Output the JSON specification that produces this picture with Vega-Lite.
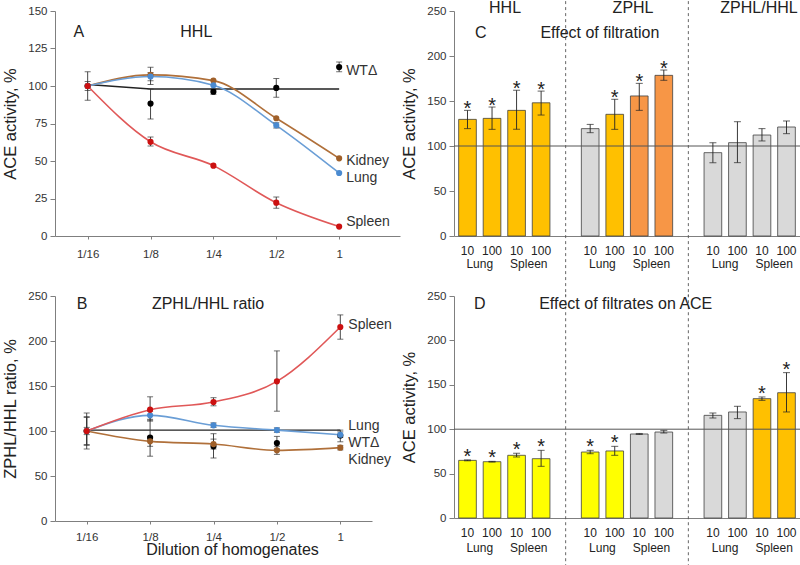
{
 "$schema": "https://vega.github.io/schema/vega-lite/v6.json",
 "padding": {"left": 2, "top": 0, "right": 0, "bottom": 0},
 "background": "white",
 "columns": 2,
 "bounds": "flush",
 "spacing": {"row": 60, "column": 54},
 "datasets": {
  "linesA": [
   {"s":"WTΔ","d":0.0625,"v":100,"lo":90.5,"hi":109.5},
   {"s":"WTΔ","d":0.125,"v":88.3,"lo":78,"hi":98},
   {"s":"WTΔ","d":0.25,"v":96.2,"lo":94.5,"hi":98},
   {"s":"WTΔ","d":0.5,"v":98.7,"lo":92.5,"hi":105},
   {"s":"WTΔ","d":1,"v":112.6,"lo":109.5,"hi":116},
   {"s":"Kidney","d":0.0625,"v":100},
   {"s":"Kidney","d":0.125,"v":107.4,"lo":101,"hi":112.5},
   {"s":"Kidney","d":0.25,"v":103.6},
   {"s":"Kidney","d":0.5,"v":78.5},
   {"s":"Kidney","d":1,"v":51.8},
   {"s":"Lung","d":0.0625,"v":100,"lo":97,"hi":103},
   {"s":"Lung","d":0.125,"v":106.3,"lo":103.5,"hi":109},
   {"s":"Lung","d":0.25,"v":100.5},
   {"s":"Lung","d":0.5,"v":73.8,"lo":72,"hi":75.5},
   {"s":"Lung","d":1,"v":42},
   {"s":"Spleen","d":0.0625,"v":100},
   {"s":"Spleen","d":0.125,"v":62.8,"lo":60,"hi":66},
   {"s":"Spleen","d":0.25,"v":46.9},
   {"s":"Spleen","d":0.5,"v":22.2,"lo":18.5,"hi":26},
   {"s":"Spleen","d":1,"v":6.3},
   {"s":"WTΔ fit","d":0.0625,"v":101},
   {"s":"WTΔ fit","d":0.125,"v":98},
   {"s":"WTΔ fit","d":0.25,"v":98},
   {"s":"WTΔ fit","d":0.5,"v":98},
   {"s":"WTΔ fit","d":1,"v":98}
  ],
  "linesB": [
   {"s":"WTΔ","d":0.0625,"v":100,"lo":80,"hi":120},
   {"s":"WTΔ","d":0.125,"v":92.6,"lo":72,"hi":112},
   {"s":"WTΔ","d":0.25,"v":83,"lo":70,"hi":97},
   {"s":"WTΔ","d":0.5,"v":86.7,"lo":80,"hi":94},
   {"s":"WTΔ","d":1,"v":95,"lo":88,"hi":101},
   {"s":"Kidney","d":0.0625,"v":100,"lo":85,"hi":115},
   {"s":"Kidney","d":0.125,"v":88.5,"lo":83,"hi":94},
   {"s":"Kidney","d":0.25,"v":85.5,"lo":80,"hi":91},
   {"s":"Kidney","d":0.5,"v":78.5,"lo":74,"hi":83},
   {"s":"Kidney","d":1,"v":81.5,"lo":79,"hi":84},
   {"s":"Lung","d":0.0625,"v":100,"lo":84,"hi":116},
   {"s":"Lung","d":0.125,"v":117.4,"lo":113,"hi":122},
   {"s":"Lung","d":0.25,"v":106.3,"lo":104,"hi":109},
   {"s":"Lung","d":0.5,"v":101,"lo":98.5,"hi":103.5},
   {"s":"Lung","d":1,"v":95.8,"lo":93,"hi":99},
   {"s":"Spleen","d":0.0625,"v":100,"lo":96,"hi":104},
   {"s":"Spleen","d":0.125,"v":123.7,"lo":111,"hi":138},
   {"s":"Spleen","d":0.25,"v":132.2,"lo":128,"hi":137},
   {"s":"Spleen","d":0.5,"v":155.2,"lo":122,"hi":189},
   {"s":"Spleen","d":1,"v":215.6,"lo":202,"hi":229},
   {"s":"WTΔ fit","d":0.0625,"v":101},
   {"s":"WTΔ fit","d":0.125,"v":101},
   {"s":"WTΔ fit","d":0.25,"v":101},
   {"s":"WTΔ fit","d":0.5,"v":101},
   {"s":"WTΔ fit","d":1,"v":101}
  ],
  "barsC": [
   {"slot":"HHL Lung 10","t":"Lung","n":"10","v":129.6,"lo":119.3,"hi":139.6,"cls":"up","sig":true},
   {"slot":"HHL Lung 100","t":"Lung","n":"100","v":130.7,"lo":118.5,"hi":143.3,"cls":"up","sig":true},
   {"slot":"HHL Spleen 10","t":"Spleen","n":"10","v":139.6,"lo":118.5,"hi":161.9,"cls":"up","sig":true},
   {"slot":"HHL Spleen 100","t":"Spleen","n":"100","v":148,"lo":134.4,"hi":161,"cls":"up","sig":true},
   {"slot":"ZPHL Lung 10","t":"Lung","n":"10","v":119.3,"lo":114.8,"hi":124,"cls":"ns","sig":false},
   {"slot":"ZPHL Lung 100","t":"Lung","n":"100","v":135.2,"lo":118.5,"hi":151.9,"cls":"up","sig":true},
   {"slot":"ZPHL Spleen 10","t":"Spleen","n":"10","v":155.6,"lo":139.6,"hi":169.6,"cls":"up2","sig":true},
   {"slot":"ZPHL Spleen 100","t":"Spleen","n":"100","v":178.5,"lo":173,"hi":184.4,"cls":"up2","sig":true},
   {"slot":"ZPHL/HHL Lung 10","t":"Lung","n":"10","v":92.6,"lo":81.5,"hi":103.7,"cls":"ns","sig":false},
   {"slot":"ZPHL/HHL Lung 100","t":"Lung","n":"100","v":103.7,"lo":81.5,"hi":127,"cls":"ns","sig":false},
   {"slot":"ZPHL/HHL Spleen 10","t":"Spleen","n":"10","v":112.2,"lo":105.6,"hi":119.3,"cls":"ns","sig":false},
   {"slot":"ZPHL/HHL Spleen 100","t":"Spleen","n":"100","v":121.1,"lo":113.7,"hi":127.8,"cls":"ns","sig":false}
  ],
  "barsD": [
   {"slot":"HHL Lung 10","t":"Lung","n":"10","v":64.9,"lo":64.4,"hi":65.4,"cls":"down","sig":true},
   {"slot":"HHL Lung 100","t":"Lung","n":"100","v":63.4,"lo":63,"hi":63.8,"cls":"down","sig":true},
   {"slot":"HHL Spleen 10","t":"Spleen","n":"10","v":70.6,"lo":68.7,"hi":72.8,"cls":"down","sig":true},
   {"slot":"HHL Spleen 100","t":"Spleen","n":"100","v":66.8,"lo":58.2,"hi":76.2,"cls":"down","sig":true},
   {"slot":"ZPHL Lung 10","t":"Lung","n":"10","v":74.3,"lo":72.4,"hi":76.2,"cls":"down","sig":true},
   {"slot":"ZPHL Lung 100","t":"Lung","n":"100","v":75.5,"lo":70.6,"hi":80.7,"cls":"down","sig":true},
   {"slot":"ZPHL Spleen 10","t":"Spleen","n":"10","v":94.6,"lo":94,"hi":95.2,"cls":"ns","sig":false},
   {"slot":"ZPHL Spleen 100","t":"Spleen","n":"100","v":96.8,"lo":95.7,"hi":98.7,"cls":"ns","sig":false},
   {"slot":"ZPHL/HHL Lung 10","t":"Lung","n":"10","v":115.6,"lo":112.6,"hi":118.2,"cls":"ns","sig":false},
   {"slot":"ZPHL/HHL Lung 100","t":"Lung","n":"100","v":119.4,"lo":111.9,"hi":125.8,"cls":"ns","sig":false},
   {"slot":"ZPHL/HHL Spleen 10","t":"Spleen","n":"10","v":134.4,"lo":132.5,"hi":136.3,"cls":"up","sig":true},
   {"slot":"ZPHL/HHL Spleen 100","t":"Spleen","n":"100","v":141.1,"lo":119.4,"hi":163.7,"cls":"up","sig":true}
  ]
 },
 "concat": [
  {
   "width": 345, "height": 225,
   "data": {"name": "linesA"},
   "encoding": {
    "x": {"field":"d","type":"quantitative","scale":{"type":"log","base":2,"domain":[0.0436,1.956]},"axis":{"values":[0.0625,0.125,0.25,0.5,1],"labelExpr":"datum.value >= 1 ? '1' : '1/' + round(1/datum.value)","title":null,"tickSize":3,"labelPadding":9,"labelFlush":false,"labelOverlap":false}},
    "y": {"field":"v","type":"quantitative","scale":{"domain":[0,150]},"axis":{"values":[0,25,50,75,100,125,150],"title":"ACE activity, %","tickSize":5,"labelPadding":3,"titlePadding":9}}
   },
   "layer": [
    {"transform":[{"filter":"datum.s == 'WTΔ fit'"}],"mark":{"type":"line","color":"#222","strokeWidth":1.3}},
    {"transform":[{"filter":"datum.s == 'Lung' || datum.s == 'Kidney' || datum.s == 'Spleen'"}],
     "mark":{"type":"line","interpolate":"monotone","strokeWidth":1.6},
     "encoding":{"color":{"field":"s","type":"nominal","scale":{"domain":["Lung","Kidney","Spleen"],"range":["#6A9ED6","#B0703A","#E05858"]},"legend":null}}},
    {"transform":[{"filter":"isValid(datum.lo)"}],"mark":{"type":"rule","color":"#333","strokeWidth":0.9},
     "encoding":{"y":{"field":"lo","type":"quantitative"},"y2":{"field":"hi"}}},
    {"transform":[{"filter":"isValid(datum.lo)"}],"mark":{"type":"tick","orient":"horizontal","size":6,"thickness":1,"color":"#333"},
     "encoding":{"y":{"field":"lo","type":"quantitative"}}},
    {"transform":[{"filter":"isValid(datum.hi)"}],"mark":{"type":"tick","orient":"horizontal","size":6,"thickness":1,"color":"#333"},
     "encoding":{"y":{"field":"hi","type":"quantitative"}}},
    {"transform":[{"filter":"datum.s != 'WTΔ fit'"}],"mark":{"type":"point","filled":true,"shape":"circle","size":38,"opacity":1},
     "encoding":{"color":{"field":"s","type":"nominal","scale":{"domain":["Lung","Kidney","Spleen","WTΔ"],"range":["#4A8AD0","#A0602A","#CC1010","#000000"]},"legend":null}}},
    {"transform":[{"filter":"datum.s == 'WTΔ' && datum.d == 1"}],
     "mark":{"type":"text","text":"WTΔ","align":"left","baseline":"middle","dx":7,"fontSize":14,"color":"#333"},
     "encoding":{"y":{"datum":110,"type":"quantitative"}}},
    {"transform":[{"filter":"datum.s == 'Kidney' && datum.d == 1"}],
     "mark":{"type":"text","text":"Kidney","align":"left","baseline":"middle","dx":7,"fontSize":14,"color":"#333"},
     "encoding":{"y":{"datum":50,"type":"quantitative"}}},
    {"transform":[{"filter":"datum.s == 'Lung' && datum.d == 1"}],
     "mark":{"type":"text","text":"Lung","align":"left","baseline":"middle","dx":7,"fontSize":14,"color":"#333"},
     "encoding":{"y":{"datum":38.4,"type":"quantitative"}}},
    {"transform":[{"filter":"datum.s == 'Spleen' && datum.d == 1"}],
     "mark":{"type":"text","text":"Spleen","align":"left","baseline":"middle","dx":7,"fontSize":14,"color":"#333"},
     "encoding":{"y":{"datum":9.6,"type":"quantitative"}}},
    {"transform":[{"filter":"datum.s == 'WTΔ fit' && datum.d == 1"}],
     "mark":{"type":"text","text":"A","align":"center","baseline":"middle","fontSize":16,"color":"#222"},
     "encoding":{"x":{"datum":0.0567,"type":"quantitative"},"y":{"datum":136,"type":"quantitative"}}},
    {"transform":[{"filter":"datum.s == 'WTΔ fit' && datum.d == 1"}],
     "mark":{"type":"text","text":"HHL","align":"center","baseline":"middle","fontSize":16,"color":"#222"},
     "encoding":{"x":{"datum":0.207,"type":"quantitative"},"y":{"datum":136,"type":"quantitative"}}}
   ],
   "resolve": {"scale": {"color": "independent"}}
  },
  {
   "width": 346, "height": 225,
   "data": {"name": "barsC"},
   "encoding": {
    "y": {"field":"v","type":"quantitative","scale":{"domain":[0,250]},"axis":{"values":[0,50,100,150,200,250],"title":"ACE activity, %","tickSize":5,"labelPadding":3,"titlePadding":9}}
   },
   "layer": [
    {"mark":{"type":"bar","stroke":"#404040","strokeWidth":0.8},
     "encoding":{
      "x":{"field":"slot","type":"nominal","scale":{"domain":["HHL Lung 10","HHL Lung 100","HHL Spleen 10","HHL Spleen 100","gap1","ZPHL Lung 10","ZPHL Lung 100","ZPHL Spleen 10","ZPHL Spleen 100","gap2","ZPHL/HHL Lung 10","ZPHL/HHL Lung 100","ZPHL/HHL Spleen 10","ZPHL/HHL Spleen 100"],"paddingInner":0.28,"paddingOuter":0.19},
           "axis":{"labelExpr":"split(datum.value, ' ')[2] || ''","labelAngle":0,"tickSize":0,"labelPadding":9,"title":null,"labelFontSize":12,"labelColor":"#222"}},
      "color":{"field":"cls","type":"nominal","scale":{"domain":["up","up2","ns","down"],"range":["#FFC000","#F79646","#D9D9D9","#FFFF00"]},"legend":null}}},
    {"transform":[{"filter":"datum.slot == 'HHL Lung 10'"}],"mark":{"type":"rule","color":"#555","strokeWidth":1},"encoding":{"y":{"datum":100,"type":"quantitative"}}},
    {"mark":{"type":"rule","color":"#222","strokeWidth":0.9},
     "encoding":{"x":{"field":"slot","type":"nominal"},"y":{"field":"lo","type":"quantitative"},"y2":{"field":"hi"}}},
    {"mark":{"type":"tick","orient":"horizontal","size":7,"thickness":1,"color":"#222"},
     "encoding":{"x":{"field":"slot","type":"nominal"},"y":{"field":"lo","type":"quantitative"}}},
    {"mark":{"type":"tick","orient":"horizontal","size":7,"thickness":1,"color":"#222"},
     "encoding":{"x":{"field":"slot","type":"nominal"},"y":{"field":"hi","type":"quantitative"}}},
    {"transform":[{"filter":"datum.sig"}],"mark":{"type":"text","text":"*","fontSize":20,"dy":5,"baseline":"alphabetic","color":"#222"},
     "encoding":{"x":{"field":"slot","type":"nominal"},"y":{"field":"hi","type":"quantitative"}}},
    {"transform":[{"filter":"datum.n == '10'"}],"mark":{"type":"text","dx":3.4,"fontSize":12,"baseline":"middle","color":"#222"},
     "encoding":{"x":{"field":"slot","type":"nominal","bandPosition":1},"y":{"datum":-31,"type":"quantitative"},"text":{"field":"t"}}},
    {"transform":[{"filter":"datum.slot == 'HHL Lung 10'"}],"mark":{"type":"rule","color":"#555","strokeWidth":0.9,"strokeDash":[3,3]},
     "encoding":{"x":{"datum":"gap1","type":"nominal","bandPosition":0.5},"y":{"datum":261,"type":"quantitative"},"y2":{"datum":-67}}},
    {"transform":[{"filter":"datum.slot == 'HHL Lung 10'"}],"mark":{"type":"rule","color":"#555","strokeWidth":0.9,"strokeDash":[3,3]},
     "encoding":{"x":{"datum":"gap2","type":"nominal","bandPosition":0.5},"y":{"datum":261,"type":"quantitative"},"y2":{"datum":-67}}},
    {"transform":[{"filter":"datum.slot == 'HHL Lung 100'"}],"mark":{"type":"text","text":"HHL","fontSize":16,"baseline":"middle","align":"left","color":"#222"},
     "encoding":{"x":{"field":"slot","type":"nominal","bandPosition":0.33},"y":{"datum":253,"type":"quantitative"}}},
    {"transform":[{"filter":"datum.slot == 'ZPHL Lung 100'"}],"mark":{"type":"text","text":"ZPHL","fontSize":16,"baseline":"middle","align":"left","color":"#222"},
     "encoding":{"x":{"field":"slot","type":"nominal","bandPosition":0.38},"y":{"datum":253,"type":"quantitative"}}},
    {"transform":[{"filter":"datum.slot == 'ZPHL/HHL Lung 10'"}],"mark":{"type":"text","text":"ZPHL/HHL","fontSize":16,"baseline":"middle","align":"left","color":"#222"},
     "encoding":{"x":{"field":"slot","type":"nominal","bandPosition":0.92},"y":{"datum":253,"type":"quantitative"}}},
    {"transform":[{"filter":"datum.slot == 'HHL Lung 10'"}],"mark":{"type":"text","text":"C","align":"left","fontSize":16,"baseline":"middle","color":"#222"},
     "encoding":{"x":{"field":"slot","type":"nominal","bandPosition":0.93},"y":{"datum":226,"type":"quantitative"}}},
    {"transform":[{"filter":"datum.slot == 'HHL Spleen 100'"}],"mark":{"type":"text","text":"Effect of filtration","align":"left","fontSize":16,"baseline":"middle","color":"#222"},
     "encoding":{"x":{"field":"slot","type":"nominal","bandPosition":0.46},"y":{"datum":226,"type":"quantitative"}}}
   ]
  },
  {
   "width": 317, "height": 225,
   "data": {"name": "linesB"},
   "encoding": {
    "x": {"field":"d","type":"quantitative","scale":{"type":"log","base":2,"domain":[0.0442,1.414]},"axis":{"values":[0.0625,0.125,0.25,0.5,1],"labelExpr":"datum.value >= 1 ? '1' : '1/' + round(1/datum.value)","title":"Dilution of homogenates","titleX":177,"titleFontSize":16,"titlePadding":-1,"tickSize":3,"labelPadding":7,"labelFlush":false,"labelOverlap":false}},
    "y": {"field":"v","type":"quantitative","scale":{"domain":[0,250]},"axis":{"values":[0,50,100,150,200,250],"title":"ZPHL/HHL ratio, %","tickSize":5,"labelPadding":3,"titlePadding":9}}
   },
   "layer": [
    {"transform":[{"filter":"datum.s == 'WTΔ fit'"}],"mark":{"type":"line","color":"#222","strokeWidth":1.3}},
    {"transform":[{"filter":"datum.s == 'Lung' || datum.s == 'Kidney' || datum.s == 'Spleen'"}],
     "mark":{"type":"line","interpolate":"monotone","strokeWidth":1.6},
     "encoding":{"color":{"field":"s","type":"nominal","scale":{"domain":["Lung","Kidney","Spleen"],"range":["#6A9ED6","#B0703A","#E05858"]},"legend":null}}},
    {"transform":[{"filter":"isValid(datum.lo)"}],"mark":{"type":"rule","color":"#333","strokeWidth":0.9},
     "encoding":{"y":{"field":"lo","type":"quantitative"},"y2":{"field":"hi"}}},
    {"transform":[{"filter":"isValid(datum.lo)"}],"mark":{"type":"tick","orient":"horizontal","size":6,"thickness":1,"color":"#333"},
     "encoding":{"y":{"field":"lo","type":"quantitative"}}},
    {"transform":[{"filter":"isValid(datum.hi)"}],"mark":{"type":"tick","orient":"horizontal","size":6,"thickness":1,"color":"#333"},
     "encoding":{"y":{"field":"hi","type":"quantitative"}}},
    {"transform":[{"filter":"datum.s != 'WTΔ fit'"}],"mark":{"type":"point","filled":true,"shape":"circle","size":38,"opacity":1},
     "encoding":{"color":{"field":"s","type":"nominal","scale":{"domain":["Lung","Kidney","Spleen","WTΔ"],"range":["#4A8AD0","#A0602A","#CC1010","#000000"]},"legend":null}}},
    {"transform":[{"filter":"datum.s == 'Spleen' && datum.d == 1"}],
     "mark":{"type":"text","text":"Spleen","align":"left","baseline":"middle","dx":8,"fontSize":14,"color":"#333"},
     "encoding":{"y":{"datum":217.4,"type":"quantitative"}}},
    {"transform":[{"filter":"datum.s == 'Lung' && datum.d == 1"}],
     "mark":{"type":"text","text":"Lung","align":"left","baseline":"middle","dx":8,"fontSize":14,"color":"#333"},
     "encoding":{"y":{"datum":105.2,"type":"quantitative"}}},
    {"transform":[{"filter":"datum.s == 'WTΔ' && datum.d == 1"}],
     "mark":{"type":"text","text":"WTΔ","align":"left","baseline":"middle","dx":8,"fontSize":14,"color":"#333"},
     "encoding":{"y":{"datum":86.7,"type":"quantitative"}}},
    {"transform":[{"filter":"datum.s == 'Kidney' && datum.d == 1"}],
     "mark":{"type":"text","text":"Kidney","align":"left","baseline":"middle","dx":8,"fontSize":14,"color":"#333"},
     "encoding":{"y":{"datum":67.4,"type":"quantitative"}}},
    {"transform":[{"filter":"datum.s == 'WTΔ fit' && datum.d == 1"}],
     "mark":{"type":"text","text":"B","align":"center","baseline":"middle","fontSize":16,"color":"#222"},
     "encoding":{"x":{"datum":0.0595,"type":"quantitative"},"y":{"datum":241,"type":"quantitative"}}},
    {"transform":[{"filter":"datum.s == 'WTΔ fit' && datum.d == 1"}],
     "mark":{"type":"text","text":"ZPHL/HHL ratio","align":"center","baseline":"middle","fontSize":16,"color":"#222"},
     "encoding":{"x":{"datum":0.2356,"type":"quantitative"},"y":{"datum":241,"type":"quantitative"}}}
   ],
   "resolve": {"scale": {"color": "independent"}}
  },
  {
   "width": 346, "height": 222,
   "data": {"name": "barsD"},
   "encoding": {
    "y": {"field":"v","type":"quantitative","scale":{"domain":[0,250]},"axis":{"values":[0,50,100,150,200,250],"title":"ACE activity, %","tickSize":5,"labelPadding":3,"titlePadding":9}}
   },
   "layer": [
    {"mark":{"type":"bar","stroke":"#404040","strokeWidth":0.8},
     "encoding":{
      "x":{"field":"slot","type":"nominal","scale":{"domain":["HHL Lung 10","HHL Lung 100","HHL Spleen 10","HHL Spleen 100","gap1","ZPHL Lung 10","ZPHL Lung 100","ZPHL Spleen 10","ZPHL Spleen 100","gap2","ZPHL/HHL Lung 10","ZPHL/HHL Lung 100","ZPHL/HHL Spleen 10","ZPHL/HHL Spleen 100"],"paddingInner":0.28,"paddingOuter":0.19},
           "axis":{"labelExpr":"split(datum.value, ' ')[2] || ''","labelAngle":0,"tickSize":0,"labelPadding":9,"title":null,"labelFontSize":12,"labelColor":"#222"}},
      "color":{"field":"cls","type":"nominal","scale":{"domain":["up","up2","ns","down"],"range":["#FFC000","#F79646","#D9D9D9","#FFFF00"]},"legend":null}}},
    {"transform":[{"filter":"datum.slot == 'HHL Lung 10'"}],"mark":{"type":"rule","color":"#555","strokeWidth":1},"encoding":{"y":{"datum":100,"type":"quantitative"}}},
    {"mark":{"type":"rule","color":"#222","strokeWidth":0.9},
     "encoding":{"x":{"field":"slot","type":"nominal"},"y":{"field":"lo","type":"quantitative"},"y2":{"field":"hi"}}},
    {"mark":{"type":"tick","orient":"horizontal","size":7,"thickness":1,"color":"#222"},
     "encoding":{"x":{"field":"slot","type":"nominal"},"y":{"field":"lo","type":"quantitative"}}},
    {"mark":{"type":"tick","orient":"horizontal","size":7,"thickness":1,"color":"#222"},
     "encoding":{"x":{"field":"slot","type":"nominal"},"y":{"field":"hi","type":"quantitative"}}},
    {"transform":[{"filter":"datum.sig"}],"mark":{"type":"text","text":"*","fontSize":20,"dy":3,"baseline":"alphabetic","color":"#222"},
     "encoding":{"x":{"field":"slot","type":"nominal"},"y":{"field":"hi","type":"quantitative"}}},
    {"transform":[{"filter":"datum.n == '10'"}],"mark":{"type":"text","dx":3.4,"fontSize":12,"baseline":"middle","color":"#222"},
     "encoding":{"x":{"field":"slot","type":"nominal","bandPosition":1},"y":{"datum":-33.5,"type":"quantitative"},"text":{"field":"t"}}},
    {"transform":[{"filter":"datum.slot == 'HHL Lung 10'"}],"mark":{"type":"rule","color":"#555","strokeWidth":0.9,"strokeDash":[3,3]},
     "encoding":{"x":{"datum":"gap1","type":"nominal","bandPosition":0.5},"y":{"datum":252,"type":"quantitative"},"y2":{"datum":-55}}},
    {"transform":[{"filter":"datum.slot == 'HHL Lung 10'"}],"mark":{"type":"rule","color":"#555","strokeWidth":0.9,"strokeDash":[3,3]},
     "encoding":{"x":{"datum":"gap2","type":"nominal","bandPosition":0.5},"y":{"datum":252,"type":"quantitative"},"y2":{"datum":-55}}},
    {"transform":[{"filter":"datum.slot == 'HHL Lung 10'"}],"mark":{"type":"text","text":"D","align":"left","fontSize":16,"baseline":"middle","color":"#222"},
     "encoding":{"x":{"field":"slot","type":"nominal","bandPosition":0.87},"y":{"datum":241.3,"type":"quantitative"}}},
    {"transform":[{"filter":"datum.slot == 'HHL Spleen 100'"}],"mark":{"type":"text","text":"Effect of filtrates on ACE","align":"left","fontSize":16,"baseline":"middle","color":"#222"},
     "encoding":{"x":{"field":"slot","type":"nominal","bandPosition":0.39},"y":{"datum":241.3,"type":"quantitative"}}}
   ]
  }
 ],
 "config": {
  "font": "Liberation Sans",
  "view": {"stroke": null},
  "axis": {"labelFont":"Liberation Sans","labelFontSize":11.5,"labelColor":"#333","titleFont":"Liberation Sans","titleFontSize":16.5,"titleFontWeight":"normal","titleColor":"#222","domainColor":"#7f7f7f","tickColor":"#7f7f7f","grid":false},
  "text": {"font": "Liberation Sans"}
 }
}
